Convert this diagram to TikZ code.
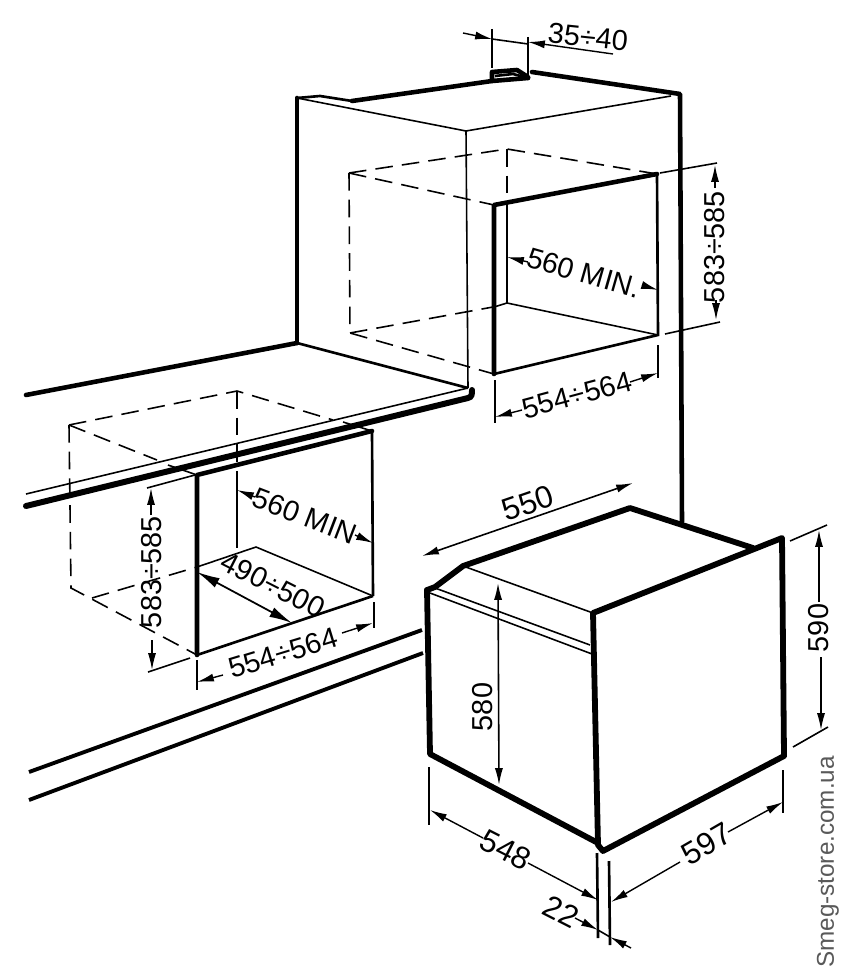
\documentclass[tikz,border=0pt]{standalone}
\usepackage{fontspec}
\setmainfont{Liberation Sans}
\usepackage{xcolor}
\usetikzlibrary{arrows.meta}

\begin{document}
\begin{tikzpicture}[x=0.01cm,y=-0.01cm]
    \tikzset{thickline/.style = {line width=1.3pt, line cap=round, line join=round}}
    \tikzset{ovenline/.style = {line width=1.65pt, line cap=round, line join=round}}
    \tikzset{midline/.style = {line width=0.75pt}}
    \tikzset{thinline/.style = {line width=0.45pt}}
    \tikzset{hidden/.style = {line width=0.45pt, dash pattern=on 5pt off 2.6pt}}
    \tikzset{dimedge/.style = {line width=0.4pt, -{Latex[length=4.8pt,width=2.3pt]}}}
    \tikzset{dimboth/.style = {line width=0.45pt, {Latex[length=4.8pt,width=2.3pt]}-{Latex[length=4.8pt,width=2.3pt]}}}
    \tikzset{dimtext/.style = {inner sep=0pt, font=\fontsize{8.2}{10}\selectfont}}
    \tikzset{dimlarge/.style = {inner sep=0pt, font=\fontsize{8.9}{10}\selectfont}}

    \useasboundingbox (0,0) rectangle (856,970);

    % upper cabinet
    \coordinate (cabtl) at (297,98);
    \coordinate (cabbl) at (297,343);
    \coordinate (cabtm) at (466,131);
    \coordinate (cabbm) at (468,388);
    \coordinate (cabtr) at (680,94);
    \coordinate (cabbr) at (682,522);
    \draw[thickline] (cabbl) -- (cabtl);
    \draw[midline] (cabtl) -- (320,96) -- (352,101);
    \draw[thickline] (352,101) -- (492,81) -- (528,78);
    \draw[thickline] (492,81) -- (492,72) -- (517,70) -- (528,77) -- (528,78);
    \draw[midline] (495,76) -- (513,74) -- (528,78);
    \draw[thickline] (532,72) -- (cabtr) -- (cabbr);
    \draw[thinline] (cabtl) -- (cabtm) -- (671,96);
    \draw[thinline] (cabtm) -- (cabbm);
    \draw[midline] (cabbl) -- (cabbm);

    % worktop
    \draw[thickline] (26,395) -- (cabbl);
    \draw[thinline] (26,494) -- (cabbm);
    \draw[line width=1.7pt, line cap=round] (26,506) -- (468,398) .. controls (472,397) and (472,394) .. (472,390);

    % upper opening
    \coordinate (upa) at (349,173);
    \coordinate (upb) at (507,149);
    \coordinate (upc) at (657,174);
    \coordinate (upd) at (494,205);
    \coordinate (upe) at (350,333);
    \coordinate (upf) at (494,374);
    \coordinate (upg) at (658,335);
    \coordinate (uph) at (507,303);
    \draw[hidden] (upa) -- (upb) -- (upc);
    \draw[hidden] (upa) -- (upd);
    \draw[hidden] (upa) -- (upe) -- (upf);
    \draw[hidden] (upe) -- (493,307);
    \draw[hidden] (upb) -- (507,203);
    \draw[thickline] (upf) -- (upd) -- (upc);
    \draw[midline] (507,203) -- (uph);
    \draw[thinline] (uph) -- (upg);
    \draw[thinline] (uph) -- (494,307);
    \draw[midline] (upc) -- (upg) -- (upf);

    % lower opening
    \coordinate (loa) at (69,425);
    \coordinate (lob) at (237,391);
    \coordinate (loc) at (372,431);
    \coordinate (lod) at (197,475);
    \coordinate (loe) at (71,588);
    \coordinate (lof) at (197,655);
    \coordinate (log) at (373,596);
    \coordinate (loh) at (256,547);
    \draw[hidden] (loa) -- (lob) -- (333,420);
    \draw[thinline] (343,422) -- (loc);
    \draw[hidden] (loa) -- (157,460);
    \draw[thinline] (168,465) -- (lod);
    \draw[hidden] (loa) -- (loe) -- (lof);
    \draw[hidden] (92,598) -- (197,567);
    \draw[hidden] (lob) -- (237,487);
    \draw[thinline] (237,487) -- (237,548);
    \draw[thinline] (197,567) -- (loh) -- (log);
    \draw[thickline] (lof) -- (lod) -- (loc);
    \draw[midline] (loc) -- (log);
    \draw[midline] (lof) -- (log);

    % floor lines
    \draw[line width=1.1pt] (29,772) -- (422,630);
    \draw[line width=1.1pt] (29,800) -- (423,653);

    % oven
    \coordinate (ovtl) at (427,590);
    \coordinate (ovbl) at (430,754);
    \coordinate (ovbf) at (603,851);
    \coordinate (ovbr) at (784,756);
    \coordinate (ovtr) at (782,538);
    \coordinate (ovtf) at (593,613);
    \draw[ovenline] (ovbr) -- (ovtr) -- (ovtf) -- (598,845) -- (ovbf) -- (ovbr);
    \draw[ovenline] (ovtl) -- (ovbl) -- (598,843);
    \draw[ovenline] (ovtl) -- (435,587) -- (463,566) -- (630,508) -- (753,548);
    \draw[thinline] (463,566) -- (ovtf);
    \draw[thinline] (435,588) -- (590,645);
    \draw[thinline] (430,593) -- (592,654);

    % dimensions upper opening
    \draw[thinline] (492,29) -- (492,68);
    \draw[thinline] (528,37) -- (528,77);
    \draw[dimedge] (463,33) -- (492,39);
    \draw[thinline] (492,39) -- (528,44);
    \draw[dimedge] (613,54) -- (528,42);
    \node[dimtext, rotate=-6] (capa) at (588,37) {35÷40};

    \draw[thinline] (660,173) -- (717,163);
    \draw[thinline] (665,334) -- (720,322);
    \draw[dimedge] (715,188) -- (715,165);
    \draw[dimedge] (716,300) -- (716,320);
    \node[dimtext, rotate=90] (upheight) at (715,247) {583÷585};

    \draw[dimedge] (528,262) -- (507,257);
    \draw[dimedge] (642,285) -- (658,290);
    \node[dimtext, rotate=-16] (updepth) at (584,273) {560 MIN.};

    \draw[thinline] (495,380) -- (495,423);
    \draw[thinline] (658,345) -- (658,378);
    \draw[dimedge] (522,410) -- (495,417);
    \draw[dimedge] (630,382) -- (658,373);
    \node[dimtext, rotate=15] (upwidth) at (577,395) {554÷564};

    % dimensions lower opening
    \draw[thinline] (147,488) -- (195,475);
    \draw[thinline] (148,672) -- (190,658);
    \draw[dimedge] (151,515) -- (151,488);
    \draw[dimedge] (152,640) -- (152,670);
    \node[dimtext, rotate=90] (loheight) at (152,572) {583÷585};

    \draw[dimedge] (255,497) -- (237,490);
    \draw[dimedge] (355,535) -- (373,543);
    \node[dimtext, rotate=-21] (lodepth) at (305,516) {560 MIN};

    \draw[line width=0.5pt, {Latex[length=6.5pt,width=3pt]}-{Latex[length=6.5pt,width=3pt]}] (197,572) -- (292,623);
    \node[dimtext, rotate=-27] (loinner) at (273,585) {490÷500};

    \draw[thinline] (197,660) -- (197,690);
    \draw[thinline] (374,602) -- (374,628);
    \draw[dimedge] (223,675) -- (197,682);
    \draw[dimedge] (342,633) -- (373,623);
    \node[dimtext, rotate=17] (lowidth) at (283,653) {554÷564};

    % dimensions oven
    \draw[dimboth] (422,556) -- (633,483);
    \node[dimlarge, rotate=19] (ovdepth) at (528,503) {550};

    \draw[dimboth] (498,583) -- (499,785);
    \node[dimtext, rotate=90] (ovfront) at (483,707) {580};

    \draw[thinline] (790,541) -- (827,525);
    \draw[thinline] (793,747) -- (828,727);
    \draw[dimedge] (819,602) -- (819,530);
    \draw[dimedge] (821,657) -- (821,730);
    \node[dimtext, rotate=90] (ovheight) at (819,628) {590};

    \draw[thinline] (429,767) -- (429,825);
    \draw[midline] (597,853) -- (598,938);
    \draw[dimedge] (483,838) -- (430,810);
    \draw[dimedge] (528,863) -- (598,900);
    \node[dimlarge, rotate=-27] (ovwidth) at (506,850) {548};

    \draw[midline] (609,861) -- (610,945);
    \draw[thinline] (783,770) -- (783,813);
    \draw[dimedge] (680,862) -- (611,902);
    \draw[dimedge] (728,832) -- (783,802);
    \node[dimlarge, rotate=30] (ovside) at (707,844) {597};

    \draw[dimedge] (575,918) -- (598,930);
    \draw[thinline] (598,930) -- (610,937);
    \draw[dimedge] (631,948) -- (610,937);
    \node[dimlarge, rotate=-27] (ovdoor) at (561,912) {22};

    % site mark
    \node[inner sep=0pt, rotate=90, text=black!65, font=\fontsize{6.9}{8}\selectfont] (sitemark) at (828,862) {Smeg-store.com.ua};
\end{tikzpicture}
\end{document}
